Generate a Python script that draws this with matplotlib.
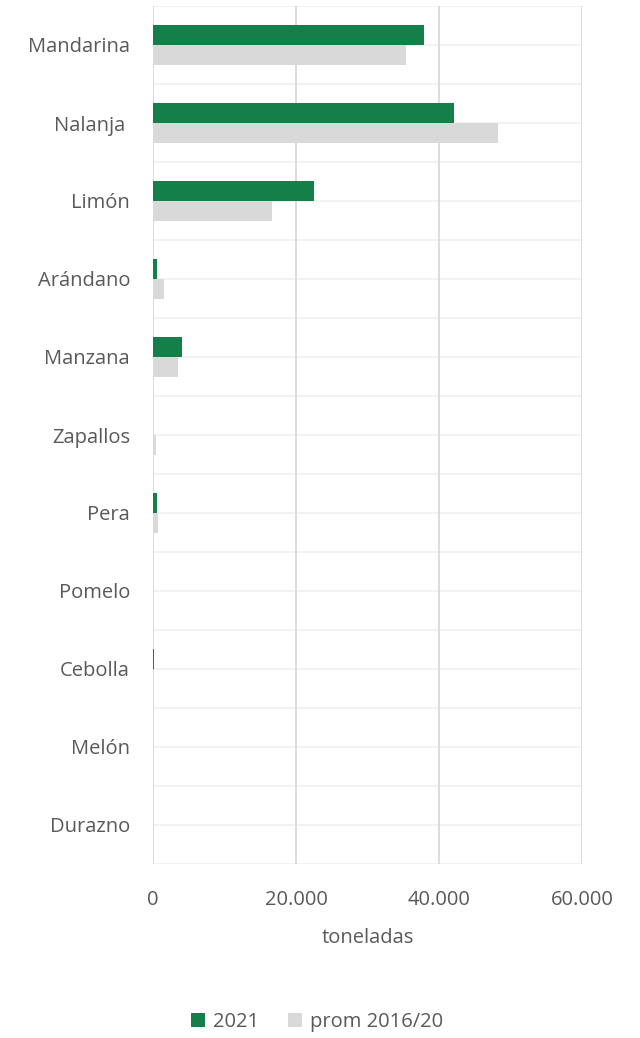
import matplotlib
matplotlib.use("Agg")
import matplotlib.pyplot as plt
import numpy as np
from matplotlib.ticker import FuncFormatter

categories = ["Mandarina", "Nalanja ", "Limón", "Arándano", "Manzana", "Zapallos",
              "Pera", "Pomelo", "Cebolla", "Melón", "Durazno"]
v2021 = [37900, 42100, 22450, 600, 4100, 0, 600, 0, 150, 0, 0]
vprom = [35400, 48300, 16600, 1540, 3450, 420, 650, 80, 0, 0, 0]
xticks = [0, 20000, 40000, 60000]

plt.rcParams['font.family'] = ['Open Sans', 'DejaVu Sans']
txt = '#595959'

fig = plt.figure(figsize=(6.4, 10.38), dpi=100)
ax = fig.add_axes([153/640, 1-864/1038, (582-153)/640, (864-6)/1038])

n = len(categories)
y = np.arange(n)
h = 0.256
ax.barh(y - h/2, v2021, height=h, color='#157f4a', label='2021', zorder=3)
ax.barh(y + h/2, vprom, height=h, color='#d9d9d9', label='prom 2016/20', zorder=3)

ax.set_ylim(n - 0.5, -0.5)
ax.set_xlim(0, 60000)
for k in np.arange(-0.5, n, 0.5):
    ax.axhline(k, color='#f0f0f0', lw=1.2, zorder=1)
for xt in xticks:
    ax.axvline(xt, color='#d9d9d9', lw=1.3, zorder=2)

ax.set_yticks(y)
ax.set_yticklabels(categories, fontsize=14.5, color=txt)
ax.set_xticks(xticks)
ax.xaxis.set_major_formatter(FuncFormatter(lambda v, p: f"{int(v):,}".replace(",", ".")))
ax.tick_params(axis='x', labelsize=14.5, labelcolor=txt, length=0, pad=19)
ax.tick_params(axis='y', length=0, pad=16.5)
for s in ax.spines.values():
    s.set_visible(False)
ax.set_xlabel("toneladas", fontsize=14.5, color=txt, labelpad=13)

leg = fig.legend(loc='center', bbox_to_anchor=(317/640, 1-1022/1038), ncol=2, frameon=False,
                 fontsize=14.5, handlelength=0.7, handleheight=0.7, handletextpad=0.4,
                 columnspacing=1.4)
for t in leg.get_texts():
    t.set_color(txt)

fig.savefig("out.png", dpi=100)
